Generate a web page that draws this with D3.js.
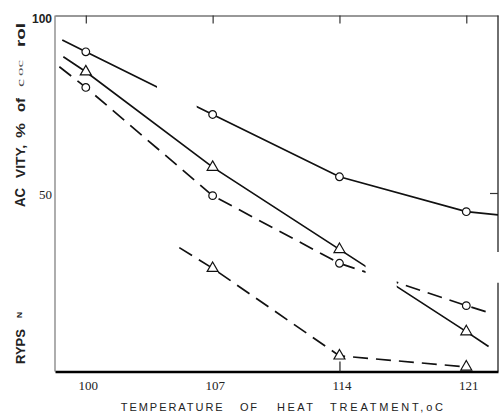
<!DOCTYPE html>
<html><head><meta charset="utf-8">
<script src="https://cdn.jsdelivr.net/npm/d3@7"></script>
<style>html,body{margin:0;padding:0;background:#fff;} svg{display:block;}</style>
</head><body>
<svg id="chart" width="504" height="414"></svg>
<script>
// heat treatment temperatures (°C)
const temps = [100, 107, 114, 121];
const xTickLabels = ["100", "107", "114", "121"];
const yTickValues = [100, 50];
const yTickLabels = ["100", "50"];

// trypsin activity, % of control
const solidCircle    = [89.8, 72.2, 54.7, 44.9];
const solidTriangle  = [84.2, 57.4, 34.3, 11.2];
const dashedCircle   = [79.8, 49.4, 30.4, 18.5];
const dashedTriangle = [null, 29.0, 4.4, 1.3];

// where each trace begins and ends beyond its measured points [temp, activity]
const solidCircleEnds    = [[98.7, 93.1], [122.75, 44.0]];
const solidTriangleEnds  = [[98.76, 88.4], [122.23, 7.0]];
const dashedCircleEnds   = [[98.54, 85.6], [122.09, 16.8]];
const dashedTriangleEnds = [[105.16, 34.8], null];

// temperature intervals in which a trace is missing
const solidCircleBreaks    = [[103.93, 106.12]];
const solidTriangleBreaks  = [[115.44, 117.16]];
const dashedCircleBreaks   = [[115.44, 117.16]];
const dashedTriangleBreaks = [];
// activity interval in which the right frame is missing
const rightFrameBreaks = [[24.9, 33.6]];

const svg = d3.select("#chart");
const x = d3.scaleLinear().domain([98.3, 122.75]).range([55, 498]);
const y = d3.scaleLinear().domain([0, 100]).range([371.5, 15.5]);

const series = [
  {id: "sc", values: solidCircle,    ends: solidCircleEnds,    breaks: solidCircleBreaks,    dash: null,   shape: d3.symbolCircle},
  {id: "st", values: solidTriangle,  ends: solidTriangleEnds,  breaks: solidTriangleBreaks,  dash: null,   shape: d3.symbolTriangle},
  {id: "dc", values: dashedCircle,   ends: dashedCircleEnds,   breaks: dashedCircleBreaks,   dash: "15,8", shape: d3.symbolCircle},
  {id: "dt", values: dashedTriangle, ends: dashedTriangleEnds, breaks: dashedTriangleBreaks, dash: "15,8", shape: d3.symbolTriangle}
];

// frame
const frame = svg.append("g").attr("fill", "none");
frame.append("line").attr("x1", x.range()[0]).attr("x2", x.range()[0])
  .attr("y1", y(100)).attr("y2", y(0)).attr("stroke", "#777").attr("stroke-width", 1.2);

const topAxis = d3.axisTop(x).tickValues(temps).tickSizeInner(-8).tickSizeOuter(0).tickFormat("");
frame.append("g").attr("transform", `translate(0,${y(100)})`).call(topAxis)
  .call(g => g.selectAll("path,line").attr("stroke", "#333").attr("stroke-width", 1.2));

// right frame, drawn in pieces around its gap
const rightKeep = [];
let lo = 0;
rightFrameBreaks.forEach(([a, b]) => { rightKeep.push([lo, a]); lo = b; });
rightKeep.push([lo, 100]);
rightKeep.forEach(([a, b]) => {
  frame.append("line").attr("x1", x.range()[1]).attr("x2", x.range()[1])
    .attr("y1", y(a)).attr("y2", y(b)).attr("stroke", "#333").attr("stroke-width", 1.4);
});
frame.append("line").attr("x1", x.range()[1] - 8).attr("x2", x.range()[1])
  .attr("y1", y(50)).attr("y2", y(50)).attr("stroke", "#333").attr("stroke-width", 1.2);

// bottom axis with temperature labels
const bottomAxis = d3.axisBottom(x).tickValues(temps).tickSize(0).tickPadding(9)
  .tickFormat((d, i) => xTickLabels[i]);
svg.append("g").attr("transform", `translate(0,${y(0)})`).call(bottomAxis)
  .call(g => g.select(".domain").attr("stroke", "#000").attr("stroke-width", 2.4))
  .call(g => g.selectAll("text").attr("font-family", "Liberation Serif, serif")
    .attr("font-size", 13).attr("fill", "#222").attr("dx", 2));
const innerTick = d3.axisBottom(x).tickValues([114]).tickSizeInner(-10).tickSizeOuter(0).tickFormat("");
svg.append("g").attr("transform", `translate(0,${y(0)})`).call(innerTick)
  .call(g => g.select(".domain").remove())
  .call(g => g.selectAll("line").attr("stroke", "#222").attr("stroke-width", 1.2));

// left axis labels
const leftAxis = d3.axisLeft(y).tickValues(yTickValues).tickSize(0).tickPadding(3)
  .tickFormat((d, i) => yTickLabels[i]);
svg.append("g").attr("transform", `translate(${x.range()[0]},0)`).call(leftAxis)
  .call(g => g.select(".domain").remove())
  .call(g => g.selectAll("text").attr("fill", "#222").each(function(d) {
    const t = d3.select(this);
    if (d === 100) t.attr("font-family", "Liberation Sans, Arial, sans-serif").attr("font-weight", "bold")
      .attr("font-size", 12).attr("dy", "0.55em");
    else t.attr("font-family", "Liberation Serif, serif").attr("font-size", 13).attr("dy", "0.4em");
  }));

// traces
const line = d3.line().x(d => x(d[0])).y(d => y(d[1]));
const defs = svg.append("defs");
const plot = svg.append("g");
series.forEach(s => {
  const pts = temps.map((t, i) => [t, s.values[i]]).filter(d => d[1] != null);
  const path = [];
  if (s.ends[0]) path.push(s.ends[0]);
  path.push(...pts);
  if (s.ends[1]) path.push(s.ends[1]);

  const keep = [];
  let from = 90;
  s.breaks.forEach(([a, b]) => { keep.push([from, a]); from = b; });
  keep.push([from, 130]);
  const clip = defs.append("clipPath").attr("id", "clip-" + s.id);
  keep.forEach(([a, b]) => clip.append("rect").attr("x", x(a)).attr("width", x(b) - x(a))
    .attr("y", 0).attr("height", 414));

  plot.append("path").datum(path).attr("d", line)
    .attr("clip-path", `url(#clip-${s.id})`)
    .attr("fill", "none").attr("stroke", "#111").attr("stroke-width", 1.7)
    .attr("stroke-dasharray", s.dash);

  const isCircle = s.shape === d3.symbolCircle;
  plot.selectAll(null).data(pts).join("path")
    .attr("transform", d => `translate(${x(d[0])},${y(d[1])})`)
    .attr("d", d3.symbol().type(s.shape).size(isCircle ? 46 : 52))
    .attr("fill", "#fff").attr("stroke", "#111").attr("stroke-width", 1.2);
});

// axis titles
const sans = "Liberation Sans, Arial, sans-serif";
const xTitle = [["TEMPERATURE", 120.7, 222.7], ["OF", 240, 257], ["HEAT", 277, 313], ["TREATMENT,oC", 330, 443]];
xTitle.forEach(([w, a, b]) => {
  svg.append("text").attr("x", a).attr("y", 411).text(w)
    .attr("font-family", sans).attr("font-size", 11).attr("fill", "#222")
    .attr("textLength", b - a).attr("lengthAdjust", "spacing");
});

function rotated(txt, yBottom, yTop, size, weight, baseX, fill, family) {
  svg.append("text").attr("transform", `translate(${baseX},${yBottom}) rotate(-90)`)
    .attr("font-family", family || sans).attr("font-size", size).attr("font-weight", weight)
    .attr("fill", fill || "#222").attr("textLength", yBottom - yTop).attr("lengthAdjust", "spacingAndGlyphs")
    .text(txt);
}
rotated("RYPS", 364, 329, 13.5, "bold", 25);
rotated("N", 318, 312, 8, "bold", 22);
rotated("AC", 207, 188, 14, "bold", 25);
rotated("VITY,", 178, 145, 13.5, "bold", 25);
rotated("%", 138, 123, 13.5, "bold", 25);
rotated("of", 112, 98, 13.5, "bold", 25);
rotated("c", 87, 79, 11, "normal", 23.5, "#444", "Liberation Serif, serif");
rotated("oc", 76, 60, 8, "normal", 22.5, "#555", "Liberation Serif, serif");
rotated("rol", 47, 23, 13.5, "bold", 25);
</script>
</body></html>
